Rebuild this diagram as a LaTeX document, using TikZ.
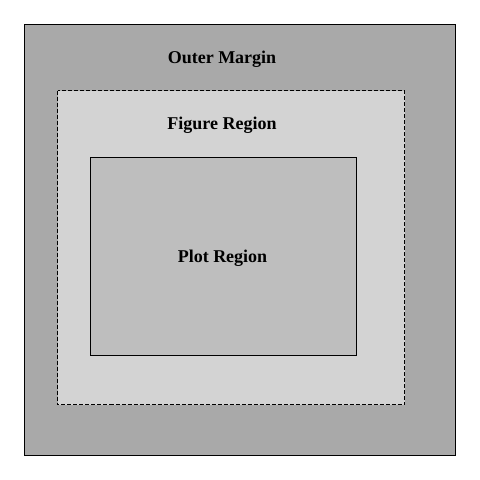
\documentclass[tikz,border=0pt]{standalone}
\usepackage{fontspec}
\setmainfont{Liberation Serif}
\definecolor{outerc}{HTML}{A9A9A9}
\definecolor{figc}{HTML}{D3D3D3}
\definecolor{plotc}{HTML}{BEBEBE}
\begin{document}
\begin{tikzpicture}[x=1pt,y=-1pt,
  region/.style={draw=black,line width=1pt},
  lbl/.style={font=\fontsize{18}{20}\selectfont\bfseries,anchor=base,inner sep=0pt}]
\useasboundingbox[fill=white] (0,0) rectangle (480,480);
\path[region,fill=outerc] (24.5,24.5) rectangle (455.5,455.5);
\path[region,fill=figc,dash pattern=on 4pt off 2pt] (57.5,90.5) rectangle (404.5,404.5);
\path[region,fill=plotc] (90.5,157.5) rectangle (356.5,355.5);
\node[lbl] (outer) at (222,63) {Outer Margin};
\node[lbl] (fig) at (222,129) {Figure Region};
\node[lbl] (plot) at (222.5,262) {Plot Region};
\end{tikzpicture}
\end{document}
